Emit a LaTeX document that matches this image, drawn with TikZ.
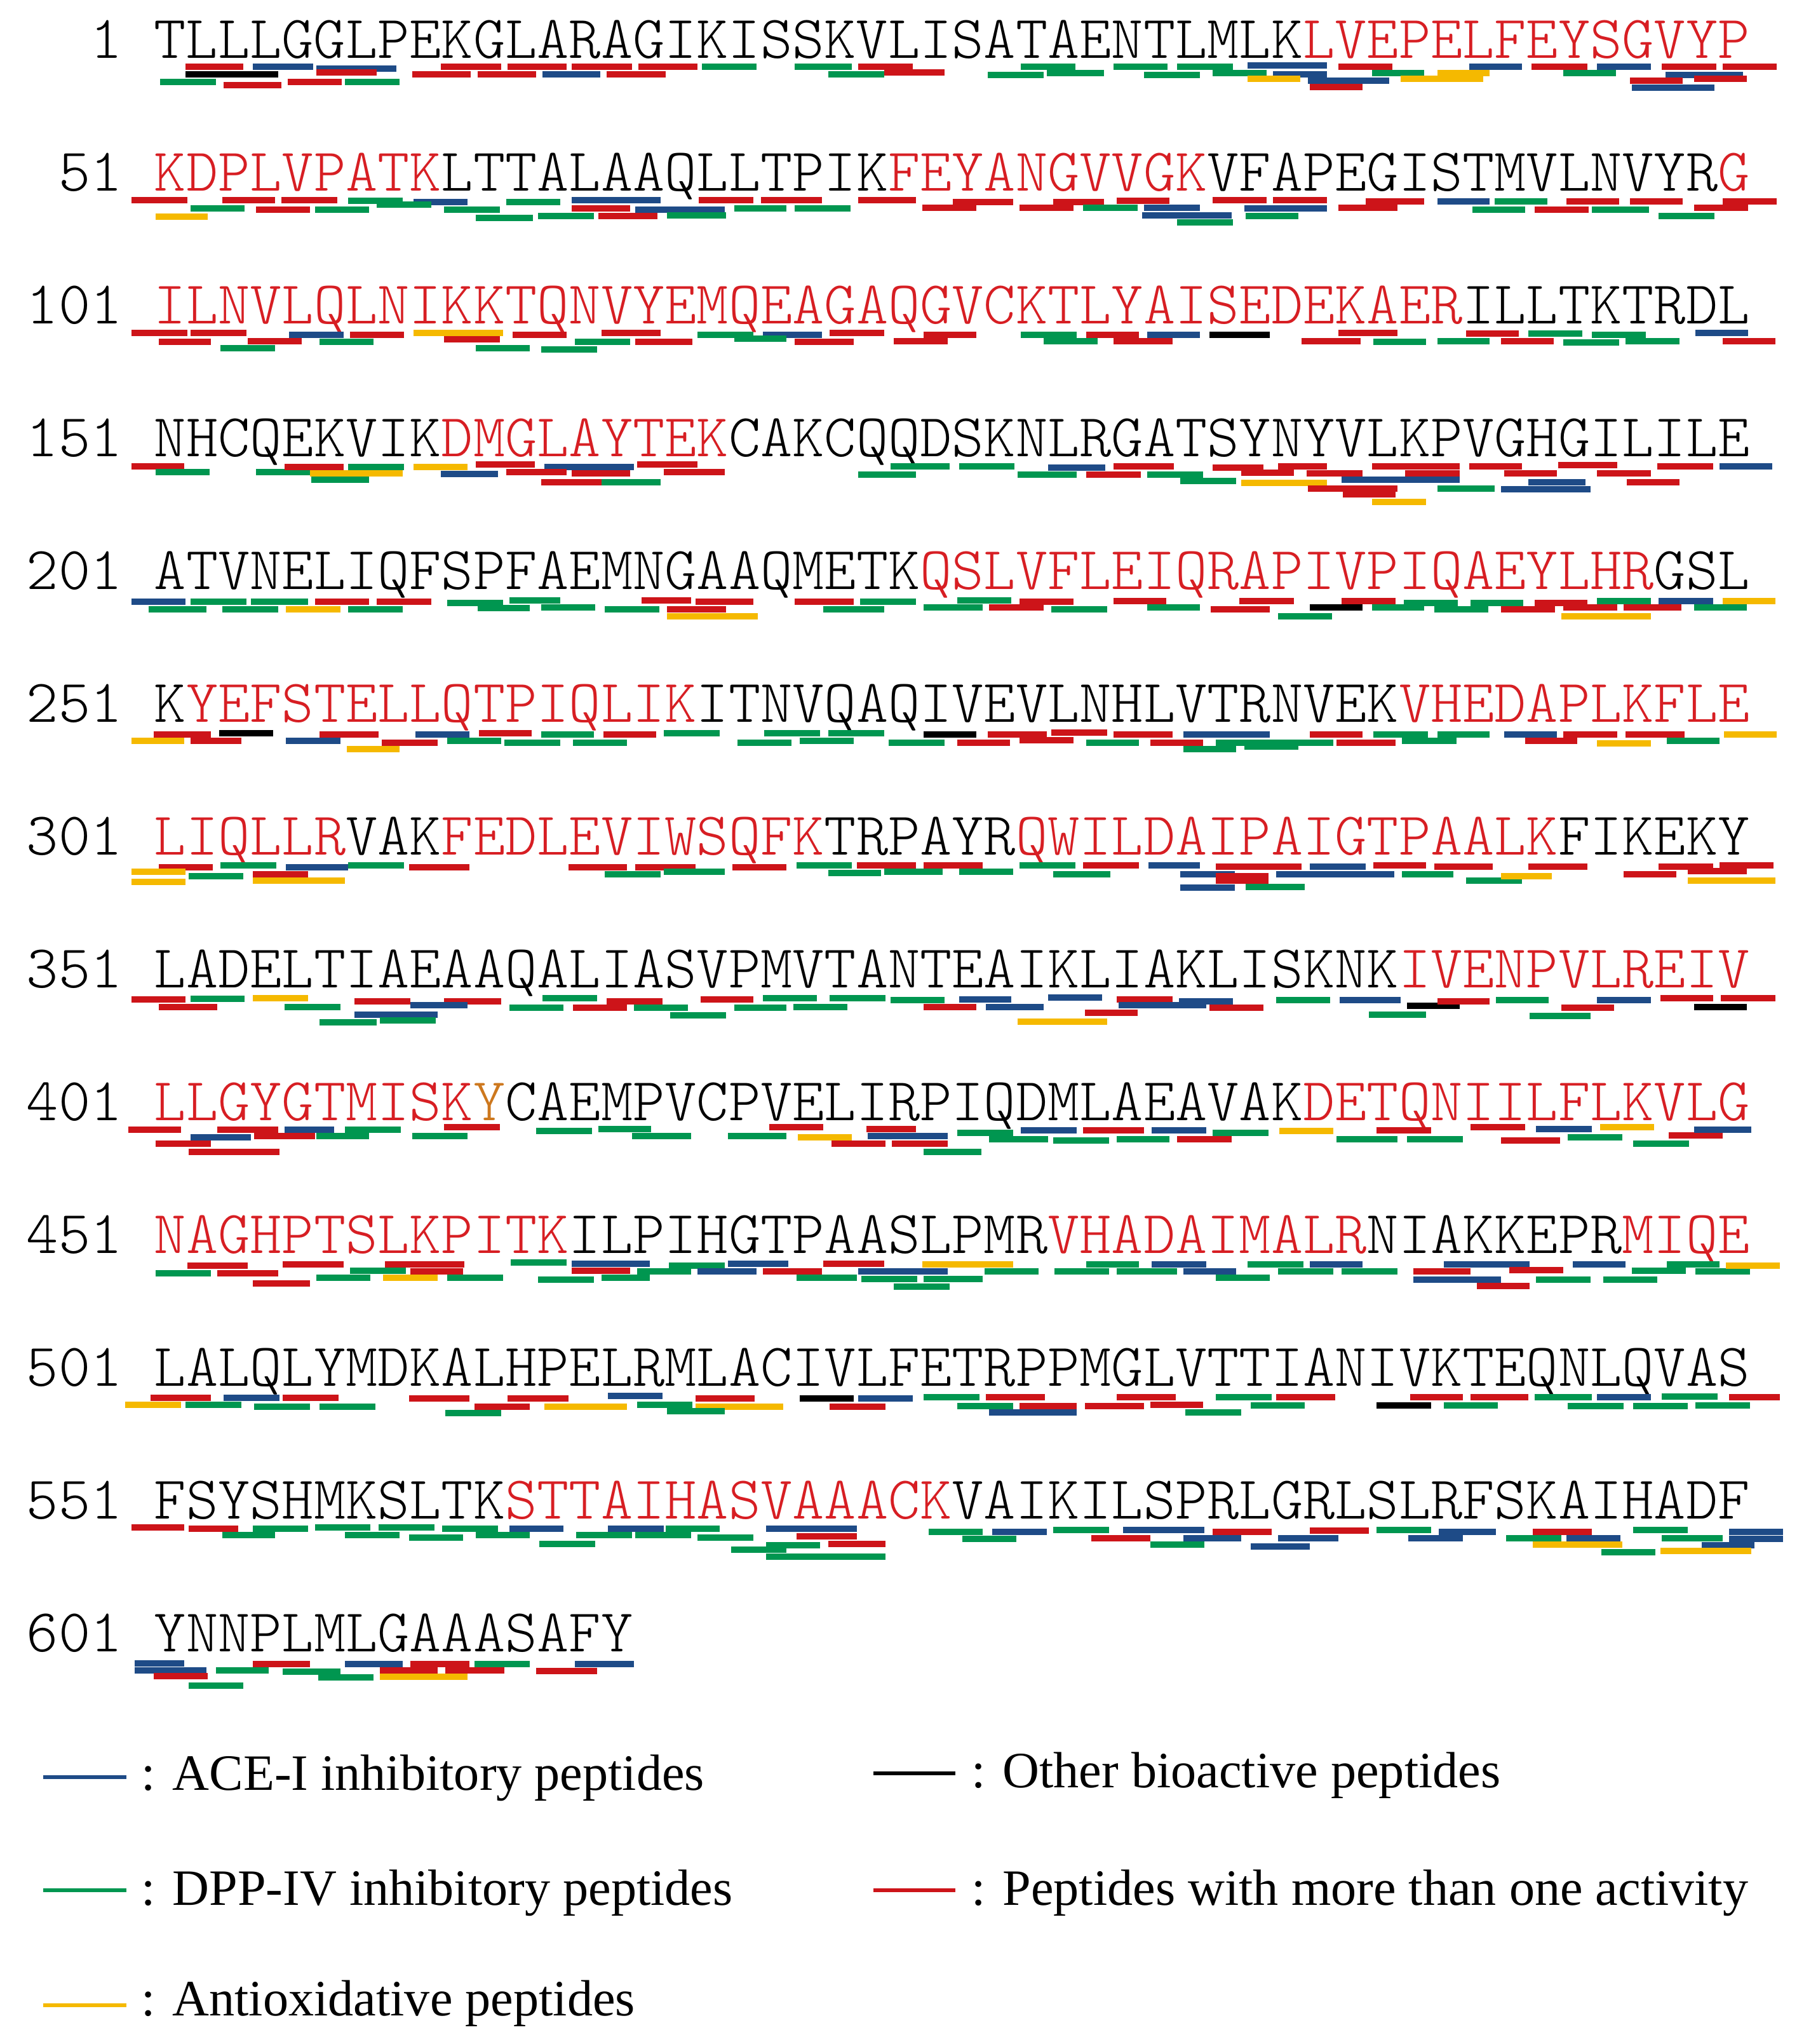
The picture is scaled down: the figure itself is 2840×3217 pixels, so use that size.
\documentclass[tikz,border=0pt]{standalone}
\usepackage{fontspec}
\setmainfont{Liberation Serif}
\setmonofont{Latin Modern Mono Light}
\definecolor{pR}{RGB}{205,20,25}
\definecolor{pG}{RGB}{0,150,80}
\definecolor{pB}{RGB}{30,75,135}
\definecolor{pY}{RGB}{245,185,0}
\definecolor{pK}{RGB}{0,0,0}
\definecolor{txtred}{RGB}{215,30,35}
\definecolor{txtor}{RGB}{205,120,30}
\newcommand\R[1]{\textcolor{txtred}{#1}}
\newcommand\Or[1]{\textcolor{txtor}{#1}}
\newcommand\pbars[2]{\foreach \sa/\sb/\so/\sc in {#2}{\fill[p\sc] ({242+50.2*\sa},{91+209*#1+\so-5}) rectangle ({242+50.2*\sb},{91+209*#1+\so+5});}}
\begin{document}
\begin{tikzpicture}[x=0.01cm,y=-0.01cm,
  seq/.style={font=\ttfamily\fontsize{27.21pt}{30pt}\selectfont, inner sep=0pt, anchor=base west},
  legtxt/.style={font=\fontsize{22.8pt}{26pt}\selectfont, inner sep=0pt, anchor=base west},
  legline/.style={line width=1.7pt}]
\fill[white] (0,0) rectangle (2840,3217);
\useasboundingbox (0,0) rectangle (2840,3217);
% sequence lines
\node[seq] (l0) at (41.2,91) {\phantom{00}1\phantom{0}TLLLGGLPEKGLARAGIKISSKVLISATAENTLMLK\R{LVEPELFEYSGVYP}};
\node[seq] (l1) at (41.2,300) {\phantom{0}51\phantom{0}\R{KDPLVPATK}LTTALAAQLLTPIK\R{FEYANGVVGK}VFAPEGISTMVLNVYR\R{G}};
\node[seq] (l2) at (41.2,509) {101\phantom{0}\R{ILNVLQLNIKKTQNVYEMQEAGAQGVCKTLYAISEDEKAER}ILLTKTRDL};
\node[seq] (l3) at (41.2,718) {151\phantom{0}NHCQEKVIK\R{DMGLAYTEK}CAKCQQDSKNLRGATSYNYVLKPVGHGILILE};
\node[seq] (l4) at (41.2,927) {201\phantom{0}ATVNELIQFSPFAEMNGAAQMETK\R{QSLVFLEIQRAPIVPIQAEYLHR}GSL};
\node[seq] (l5) at (41.2,1136) {251\phantom{0}K\R{YEFSTELLQTPIQLIK}ITNVQAQIVEVLNHLVTRNVEK\R{VHEDAPLKFLE}};
\node[seq] (l6) at (41.2,1345) {301\phantom{0}\R{LIQLLR}VAK\R{FEDLEVIWSQFK}TRPAYR\R{QWILDAIPAIGTPAALK}FIKEKY};
\node[seq] (l7) at (41.2,1554) {351\phantom{0}LADELTIAEAAQALIASVPMVTANTEAIKLIAKLISKNK\R{IVENPVLREIV}};
\node[seq] (l8) at (41.2,1763) {401\phantom{0}\R{LLGYGTMISK}\Or{Y}CAEMPVCPVELIRPIQDMLAEAVAK\R{DETQNIILFLKVLG}};
\node[seq] (l9) at (41.2,1972) {451\phantom{0}\R{NAGHPTSLKPITK}ILPIHGTPAASLPMR\R{VHADAIMALR}NIAKKEPR\R{MIQE}};
\node[seq] (l10) at (41.2,2181) {501\phantom{0}LALQLYMDKALHPELRMLACIVLFETRPPMGLVTTIANIVKTEQNLQVAS};
\node[seq] (l11) at (41.2,2390) {551\phantom{0}FSYSHMKSLTK\R{STTAIHASVAAACK}VAIKILSPRLGRLSLRFSKAIHADF};
\node[seq] (l12) at (41.2,2599) {601\phantom{0}YNNPLMLGAAASAFY};
% peptide bars
\pbars{0}{1/2.8/14/R, 3.1/5/14/B, 5.1/7.6/17/B, 9/10.9/14/R, 11.1/12.95/14/R, 13.1/15/14/R, 15.2/17.05/14/R, 17.2/18.9/14/G, 20.1/21.9/14/G, 22.1/23.8/14/R, 27.2/28.9/14/G, 30.1/31.8/14/G, 32.1/33.85/14/G, 34.3/36.8/12/B, 37.15/38.85/14/R, 41.25/42.9/14/B, 43.2/44.95/14/R, 45.25/46.95/14/B, 47.3/49/14/R, 49.2/50.9/14/R, 1/3.9/26/K, 5.1/7/23/R, 8.1/9.95/26/R, 10.15/12/26/R, 12.2/14/26/B, 14.2/16.05/26/R, 21.15/22.9/26/G, 22.9/24.8/23/R, 26.15/27.9/27/G, 28/29.8/24/G, 31.05/32.8/27/G, 33.2/34.9/24/G, 35.1/36.8/26/B, 38.2/39.85/24/G, 40.25/41.9/24/Y, 44.2/45.85/24/G, 47.4/49.85/27/B, 0.2/1.95/38/G, 2.2/4/43/R, 4.2/5.9/38/R, 6/7.7/38/G, 34.3/35.95/33/Y, 36.2/38.75/36/B, 39.1/41.7/33/Y, 46.3/47.95/36/R, 48.3/49.95/33/R, 36.25/37.9/46/R, 46.35/48.95/47/B}
\pbars{1}{-0.7/1.05/15/R, 2.15/3.8/15/R, 4/5.75/15/R, 6.1/7.8/16/G, 1.15/2.85/28/G, 8.15/9.85/18/B, 7/8.7/22/G, 3.2/4.9/30/R, 5.05/6.75/30/G, 9.1/10.85/30/G, 0.05/1.7/41/Y, 11.05/12.75/18/G, 13.1/15.9/15/B, 13.1/14.95/28/R, 15.1/17.9/30/B, 10.1/11.9/43/G, 12.05/13.8/40/G, 13.95/15.8/40/R, 16.1/17.95/39/G, 17.1/18.8/15/R, 19.05/20.95/15/R, 22.1/23.9/15/R, 18.2/19.85/28/G, 20.1/21.85/28/G, 25.05/26.95/18/R, 24.1/25.8/27/R, 27.15/28.85/27/R, 28.2/29.8/18/R, 29.15/30.85/27/G, 30.2/31.85/16/R, 33.2/34.9/15/R, 35.1/36.8/15/R, 31.05/32.8/27/B, 31/33.8/39/B, 32.1/33.85/50/G, 34.25/35.9/40/G, 34.2/36.8/28/B, 38/39.85/17/R, 37.15/39/27/R, 40.25/41.9/17/B, 42.05/43.7/17/G, 44.3/45.95/17/R, 46.3/47.95/17/R, 49.2/50.9/17/R, 41.35/43/30/G, 43.3/45/30/R, 45.1/46.9/30/G, 48.3/50/27/R, 47.2/48.95/40/G}
\pbars{2}{-0.7/1.05/15/R, 1.15/2.9/15/R, 4.25/5.95/18/B, 6.15/7.85/18/R, 8.15/10.95/15/Y, 11.25/12.95/18/R, 14.05/15.9/15/R, 17.05/18.8/18/G, 19.1/20.95/18/B, 21.2/22.9/15/R, 0.15/1.8/29/R, 2.95/4.65/28/R, 5.2/6.9/29/G, 9.1/10.85/25/R, 13.2/14.95/29/G, 15.1/16.9/29/R, 18.2/19.85/24/G, 20.1/21.95/29/R, 23.2/24.9/28/R, 2.1/3.8/39/G, 10.1/11.8/39/G, 12.15/13.9/41/G, 24.15/25.8/18/R, 27.2/28.95/18/G, 27.9/29.6/28/G, 29.25/30.9/18/R, 30.1/31.95/28/R, 31.15/32.8/18/B, 33.1/35/18/K, 37.15/39/15/R, 36/37.85/28/R, 38.25/39.9/29/G, 40.25/41.9/28/G, 41.15/42.8/16/R, 42.25/43.9/28/R, 43.1/44.8/16/G, 44.2/45.95/30/G, 45.1/46.8/18/G, 46.15/47.85/28/G, 48.35/50/15/B, 49.2/50.85/28/R}
\pbars{3}{-0.7/0.95/16/R, 0.05/1.75/25/G, 3.2/4.9/25/G, 4.1/5.95/17/R, 6.1/7.85/17/G, 4.9/7.8/27/Y, 4.95/6.75/37/G, 8.15/9.85/17/Y, 9/10.8/28/B, 10.1/11.95/13/R, 12.25/15.05/17/B, 11.05/12.95/25/R, 13.1/14.95/27/R, 15.15/17.05/13/R, 16/17.9/25/R, 12.15/14.05/41/R, 14.05/15.9/41/G, 23.1/24.95/16/G, 22.1/23.9/29/G, 25.25/27/16/G, 28.05/29.85/18/B, 30.1/32/16/R, 27.1/28.95/29/G, 29.25/30.95/29/R, 31.15/32.9/29/G, 32.2/33.95/39/G, 33.2/34.8/18/R, 34.1/35.75/26/R, 35.25/36.8/16/R, 34.1/36.8/42/Y, 36.2/39/51/R, 37.3/38.95/60/R, 38.2/39.9/72/Y, 36.15/37.9/27/R, 38.2/40.95/16/R, 37.25/40.95/37/B, 39.25/40.95/27/R, 41.25/42.9/16/R, 42.35/44/27/R, 40.25/42.05/51/G, 42.25/45.05/52/B, 43.1/44.9/41/B, 44.05/45.9/14/R, 45.25/46.95/27/R, 46.2/47.85/41/R, 47.15/48.9/16/R, 49.1/50.75/16/B}
\pbars{4}{-0.7/1/20/B, 1.15/2.9/20/G, 3.05/4.85/20/G, 5.05/6.75/20/R, 7/8.7/20/R, -0.15/1.65/32/G, 2.15/3.9/32/G, 4.15/5.85/32/Y, 6.1/7.8/32/G, 9.2/10.95/22/G, 10.15/11.8/30/G, 11.15/12.75/18/G, 12.15/13.85/29/G, 14.15/15.85/32/G, 15.3/16.85/18/R, 17/18.8/20/R, 16.1/17.95/32/R, 16.1/18.95/43/Y, 20.1/21.95/20/R, 22.15/23.9/20/G, 21/22.9/32/G, 25.2/26.9/18/G, 24.15/26/29/G, 27.15/28.85/20/R, 26.2/27.9/29/R, 28.15/29.9/32/G, 30.1/31.75/19/R, 31.15/32.8/29/G, 34.05/35.75/19/R, 33.15/35/32/R, 35.25/36.95/43/G, 36.25/37.9/29/K, 37.25/38.95/19/R, 38.2/39.85/29/G, 39.2/40.9/22/G, 40.15/41.85/32/G, 41.3/42.95/22/G, 42.25/43.95/32/R, 43.3/44.95/22/R, 44.2/45.9/29/R, 44.15/46.95/43/Y, 45.25/46.95/19/G, 46.1/47.9/29/R, 47.2/48.9/19/B, 48.3/49.95/29/G, 49.2/50.85/19/Y}
\pbars{5}{0/1.8/20/R, 2.05/3.75/18/K, -0.7/0.95/30/Y, 1.15/2.75/30/R, 4.15/5.85/30/B, 5.2/7.05/20/R, 6.05/7.7/43/Y, 7.15/8.9/33/R, 8.2/9.9/20/B, 9.2/10.9/30/G, 10.2/11.85/18/R, 11/12.75/33/G, 12.15/13.8/20/G, 13.15/14.85/33/G, 14.1/15.75/20/R, 16/17.75/18/G, 19.15/20.9/18/G, 21.15/22.9/18/G, 18.3/20/33/G, 20.25/21.95/30/G, 23.05/24.8/33/G, 24.15/25.8/20/K, 25.2/26.85/33/R, 26.15/28/20/R, 27.15/28.85/29/R, 28.15/29.9/17/R, 29.25/30.9/33/G, 30.1/31.95/20/R, 31.25/32.9/33/R, 32.3/35/20/B, 32.3/33.95/43/G, 33.3/37/33/G, 34.2/35.9/39/G, 36.25/37.9/20/R, 37.1/38.95/33/R, 38.25/39.95/20/G, 39.15/40.85/30/G, 40.25/41.9/20/G, 42.35/44/20/B, 43/44.65/30/R, 44.2/45.9/20/R, 45.25/46.95/34/Y, 46.15/48/20/R, 47.45/49.1/30/G, 49.25/50.9/20/Y}
\pbars{6}{0.15/1.85/20/R, 2.1/3.85/17/G, 4.15/6.1/20/B, 6.1/7.85/17/G, 8/9.9/20/R, -0.7/1/27/Y, 1.1/2.8/34/G, -0.7/1/43/Y, 3.1/4.85/31/R, 3.1/6/41/Y, 13/14.85/20/R, 15.1/17/20/R, 14.15/15.9/31/G, 16/17.9/27/G, 18.15/19.85/20/R, 20.15/21.9/17/G, 22.05/23.9/17/R, 24.15/26/17/R, 21.15/22.8/29/G, 22.9/24.75/27/G, 25.25/26.95/27/G, 27.15/28.9/17/G, 28.2/30/31/G, 29.15/30.9/17/R, 31.2/32.8/17/B, 32.2/33.9/31/B, 33.3/36/19/R, 33.3/34.95/34/R, 33.3/34.95/41/R, 32.2/33.9/52/B, 34.25/36.1/51/G, 36.25/38/19/B, 35.2/38.9/31/B, 38.25/39.9/17/R, 40.15/42/19/R, 39.15/40.75/31/G, 43.1/44.95/19/R, 41.15/42.9/41/G, 42.25/43.85/34/Y, 46.1/47.75/31/R, 47.2/48.9/19/R, 48.1/49.95/26/R, 49.1/50.8/17/R, 48.1/50.85/41/Y}
\pbars{7}{-0.7/1/19/R, 1.15/2.85/18/G, 3.1/4.85/17/Y, 0.15/2/31/R, 4.1/5.85/31/G, 6.3/8.05/22/R, 9.1/10.9/22/R, 8.05/9.85/28/B, 6.3/8.9/43/B, 7.1/8.85/52/G, 5.2/7/55/G, 12.2/13.9/17/G, 11.15/12.85/32/G, 14.2/15.95/22/R, 13.15/14.85/32/R, 15.05/16.75/32/G, 16.2/17.95/44/G, 17.15/18.8/19/R, 18.2/19.85/32/G, 19.1/20.8/17/G, 20.05/21.75/31/G, 21.2/22.95/17/G, 23.1/24.8/20/G, 24.15/25.8/31/R, 25.25/26.9/19/B, 26.1/27.9/31/B, 28.05/29.75/16/B, 27.1/29.9/54/Y, 30.2/31.95/19/R, 30.25/33/28/B, 29.2/30.85/40/R, 32.15/33.85/22/B, 33.1/34.8/32/R, 35.2/36.9/20/G, 37.2/39.1/20/B, 39.3/40.95/29/K, 40.25/41.9/22/R, 38.1/39.9/43/G, 42.1/43.75/20/G, 44.15/45.8/32/R, 43.15/45.05/45/G, 45.25/46.95/20/B, 47.25/48.9/17/R, 49.15/50.85/17/R, 48.3/49.95/31/K}
\pbars{8}{-0.8/0.85/15/R, 2/3.9/15/R, 4.1/5.65/15/B, 6/7.75/15/G, 9.1/10.85/11/R, 1.15/3.05/27/B, 3.15/5.05/25/R, 5.1/6.75/25/G, 8.1/9.85/25/G, 0.05/1.8/37/R, 1.1/3.95/50/R, 12/13.75/17/G, 13.95/15.6/14/G, 15/16.85/25/G, 18/19.85/25/G, 19.3/21/11/R, 20.2/21.9/27/Y, 21.25/22.95/37/R, 22.35/23.9/14/R, 22.4/24.9/25/B, 23.15/24.9/37/R, 24.15/25.95/50/G, 25.2/26.95/20/G, 27.2/28.95/16/B, 26.2/28.05/30/G, 29.15/31.05/16/R, 28.2/29.95/32/G, 31.3/33/16/B, 30.2/31.85/30/G, 32.1/33.8/30/R, 33.2/34.95/20/G, 35.3/37/17/Y, 38.35/40.05/16/R, 37.1/39/30/G, 39.3/41.05/30/G, 41.3/43/11/R, 43.35/45.1/14/B, 42.25/44.1/32/R, 44.35/46.05/27/G, 45.35/47.05/11/Y, 46.4/48.15/37/G, 47.5/49.2/24/R, 48.3/50.1/15/B}
\pbars{9}{1.05/2.95/20/R, 4.05/5.95/18/R, 7.25/9.75/18/R, 11.2/12.95/15/G, 13.1/15.55/17/B, 16.15/17.9/20/G, 18/19.9/17/B, 21/22.9/17/R, 0.05/1.8/32/G, 2/3.9/32/R, 6.15/7.9/28/G, 8.05/9.7/29/R, 5.1/6.8/39/G, 7.2/8.9/39/Y, 9.2/10.95/39/G, 3.1/4.9/48/R, 13.1/14.95/28/R, 15.15/16.85/29/G, 17.05/18.9/29/B, 19.1/20.95/29/R, 12.05/13.8/42/G, 14.05/15.55/39/G, 20.15/22.05/39/G, 22.1/24.9/29/B, 22.2/23.95/41/G, 24.15/26/41/G, 23.2/24.95/53/G, 24.1/26.95/18/Y, 26.05/27.75/29/G, 28.25/29.95/29/G, 29.25/30.9/18/G, 30.2/32.1/29/G, 31.3/33/18/B, 32.3/33.95/29/B, 33.3/35/39/G, 34.3/36.05/18/G, 35.25/37/29/G, 36.25/37.9/18/B, 37.25/39/29/G, 39.5/41.3/29/R, 40.45/43.15/18/B, 39.5/42.25/42/B, 41.5/43.15/52/R, 42.5/44.2/27/R, 43.35/45.05/42/G, 44.5/46.15/18/B, 45.45/47.15/42/G, 46.35/48.05/28/G, 47.45/49.1/18/G, 48.35/50.05/29/G, 49.3/51/20/Y}
\pbars{10}{-0.1/1.8/19/R, 2.2/3.95/19/B, 4.05/5.8/19/R, -0.9/0.85/30/Y, 1/2.75/30/G, 3.15/4.9/33/G, 5.2/6.95/33/G, 8/9.9/20/R, 11.1/13/20/R, 10.05/11.8/33/R, 9.15/10.9/43/G, 12.25/14.85/33/Y, 14.25/15.95/16/B, 17/18.85/20/R, 15.15/16.9/30/G, 17/19.75/33/Y, 16.1/17.9/40/G, 20.25/21.95/20/K, 22.1/23.8/20/B, 21.2/22.95/33/R, 24.15/25.9/18/G, 26.1/27.95/18/R, 25.2/26.95/32/G, 27.15/28.95/32/R, 26.2/28.95/42/B, 30.2/32.05/18/R, 29.2/31.05/32/R, 31.25/32.9/30/R, 33.3/35.05/18/G, 35.2/37.05/18/R, 34.4/36.1/31/G, 32.35/34.1/42/G, 39.4/41.05/18/R, 41.3/43.1/18/R, 38.35/40.05/31/K, 40.45/42.15/31/G, 43.3/45.1/18/G, 45.25/46.95/18/B, 47.3/49.05/17/G, 49.4/51/18/R, 44.35/46.1/32/G, 46.4/48.1/32/G, 48.35/50.05/31/G}
\pbars{11}{-0.7/0.95/14/R, 1.1/2.65/16/R, 3.1/4.85/16/G, 5.05/6.8/14/G, 7.05/8.8/14/G, 9.05/10.8/16/G, 11.15/12.85/16/B, 2.15/3.8/26/G, 6/7.7/26/G, 8/9.7/30/G, 10.1/11.8/26/G, 12.1/13.85/40/G, 14.25/16/16/B, 16.05/17.75/16/G, 13.25/15/26/G, 15.1/16.85/26/G, 17.05/18.8/30/G, 19.2/22.05/16/B, 20.15/22.05/28/R, 21.15/22.95/40/R, 19.2/20.9/42/G, 18.1/19.85/49/G, 19.2/22.95/60/G, 24.3/26/21/G, 26.3/28/21/B, 25.35/27.05/32/G, 28.2/29.95/18/G, 30.4/32.95/18/B, 29.4/31.25/31/R, 32.3/34.1/31/B, 31.25/32.95/41/G, 33.2/35.05/21/R, 34.4/36.25/44/B, 35.25/37.15/31/B, 36.25/38.1/19/R, 38.35/40.05/18/G, 40.3/42.1/21/B, 39.35/41.05/31/B, 43.25/45.1/21/R, 42.4/44.15/31/G, 44.3/46/31/B, 43.25/46.05/41/Y, 45.4/47.1/53/G, 46.4/48.1/18/G, 47.3/49.2/31/G, 49.4/51.1/21/B, 49.4/51.1/32/B, 48.55/50.2/42/B, 47.25/50.1/51/Y}
\pbars{12}{-0.6/0.95/19/B, -0.6/1.65/30/B, 0/1.7/39/R, 1.1/2.8/54/G, 1.95/3.6/30/G, 3.1/4.9/20/R, 4.05/5.85/32/G, 5.15/6.9/41/G, 6/7.8/20/B, 7.1/8.9/30/R, 7.1/9.85/40/Y, 8.05/9.9/20/R, 9.15/11/30/R, 10.05/11.8/20/G, 12/13.9/31/R, 13.2/15.05/20/B}
% legend
\coordinate (ka) at (68,2797); \coordinate (kb) at (199,2797);
\coordinate (kc) at (68,2975); \coordinate (kd) at (199,2975);
\coordinate (ke) at (68,3156); \coordinate (kf) at (199,3156);
\coordinate (kg) at (1375,2791); \coordinate (kh) at (1504,2791);
\coordinate (ki) at (1375,2975); \coordinate (kj) at (1504,2975);
\draw[legline,pB] (ka) -- (kb);
\draw[legline,pG] (kc) -- (kd);
\draw[legline,pY] (ke) -- (kf);
\draw[legline,pK] (kg) -- (kh);
\draw[legline,pR] (ki) -- (kj);
\node[legtxt] (t1) at (222,2817) {: ACE-I inhibitory peptides};
\node[legtxt] (t2) at (222,2998) {: DPP-IV inhibitory peptides};
\node[legtxt] (t3) at (222,3172) {: Antioxidative peptides};
\node[legtxt] (t4) at (1529,2813) {: Other bioactive peptides};
\node[legtxt] (t5) at (1529,2998) {: Peptides with more than one activity};
\end{tikzpicture}
\end{document}
